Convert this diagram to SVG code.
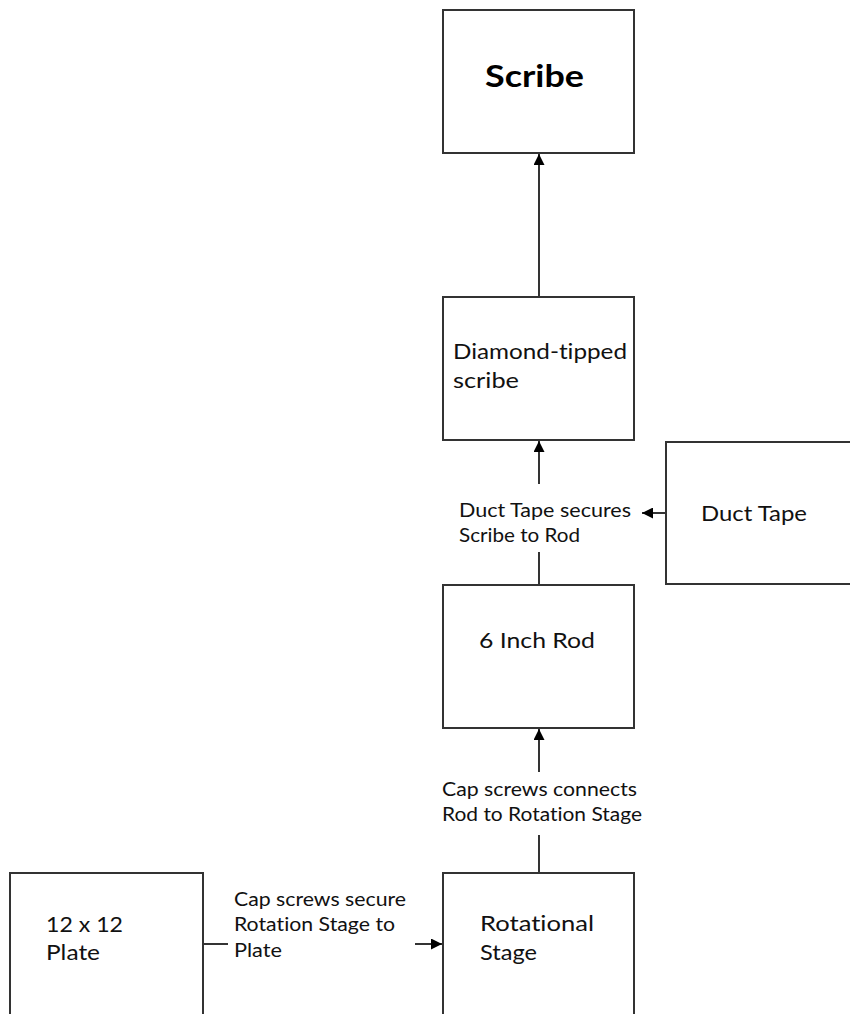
<svg xmlns="http://www.w3.org/2000/svg" width="850" height="1014" viewBox="0 0 850 1014">
<defs>
<style>
.box{fill:#fff;stroke:#333;stroke-width:2}
text{font-variant-ligatures:none}
.t{font-family:Lato,"Liberation Sans",sans-serif;font-size:22px;fill:#111}
.l{font-family:Lato,"Liberation Sans",sans-serif;font-size:18.5px;fill:#111}
.c{stroke:#000;stroke-width:1.6;fill:none}
</style>
<marker id="ah" viewBox="0 0 10 10" refX="10" refY="5" markerWidth="11" markerHeight="11" markerUnits="userSpaceOnUse" orient="auto">
<path d="M0,0 L10,5 L0,10 z" fill="#000"/>
</marker>
</defs>
<rect width="850" height="1014" fill="#fff"/>
<g id="connectors">
<line class="c" x1="539" y1="297" x2="539" y2="154" marker-end="url(#ah)"/>
<line class="c" x1="539" y1="484" x2="539" y2="441" marker-end="url(#ah)"/>
<line class="c" x1="539" y1="552" x2="539" y2="585"/>
<line class="c" x1="666" y1="513" x2="642" y2="513" marker-end="url(#ah)"/>
<line class="c" x1="539" y1="772" x2="539" y2="729" marker-end="url(#ah)"/>
<line class="c" x1="539" y1="835" x2="539" y2="873"/>
<line class="c" x1="203" y1="944" x2="228" y2="944"/>
<line class="c" x1="415" y1="944" x2="442" y2="944" marker-end="url(#ah)"/>
<text class="l" x="459" y="517" textLength="172" lengthAdjust="spacingAndGlyphs">Duct Tape secures</text>
<text class="l" x="459" y="542" textLength="121" lengthAdjust="spacingAndGlyphs">Scribe to Rod</text>
<text class="l" x="442" y="796" textLength="195" lengthAdjust="spacingAndGlyphs">Cap screws connects</text>
<text class="l" x="442" y="821" textLength="200" lengthAdjust="spacingAndGlyphs">Rod to Rotation Stage</text>
<text class="l" x="234" y="906" textLength="172" lengthAdjust="spacingAndGlyphs">Cap screws secure</text>
<text class="l" x="234" y="931" textLength="161" lengthAdjust="spacingAndGlyphs">Rotation Stage to</text>
<text class="l" x="234" y="957" textLength="48" lengthAdjust="spacingAndGlyphs">Plate</text>
</g>
<g id="scribe">
<rect class="box" x="443" y="10" width="191" height="143"/>
<text x="485" y="87" textLength="99" lengthAdjust="spacingAndGlyphs" style="font-family:Lato,'Liberation Sans',sans-serif;font-size:30px;font-weight:bold;fill:#000">Scribe</text>
</g>
<g id="diamond">
<rect class="box" x="443" y="297" width="191" height="143"/>
<text class="t" x="453" y="359" textLength="174" lengthAdjust="spacingAndGlyphs">Diamond-tipped</text>
<text class="t" x="453" y="388" textLength="66" lengthAdjust="spacingAndGlyphs">scribe</text>
</g>
<g id="ducttape">
<rect class="box" x="666" y="442" width="200" height="142"/>
<text class="t" x="701" y="521" textLength="106" lengthAdjust="spacingAndGlyphs">Duct Tape</text>
</g>
<g id="rod">
<rect class="box" x="443" y="585" width="191" height="143"/>
<text class="t" x="479" y="648" textLength="116" lengthAdjust="spacingAndGlyphs">6 Inch Rod</text>
</g>
<g id="rotstage">
<rect class="box" x="443" y="873" width="191" height="160"/>
<text class="t" x="480" y="931" textLength="114" lengthAdjust="spacingAndGlyphs">Rotational</text>
<text class="t" x="480" y="960" textLength="57" lengthAdjust="spacingAndGlyphs">Stage</text>
</g>
<g id="plate">
<rect class="box" x="10" y="873" width="193" height="160"/>
<text class="t" x="46" y="932" textLength="77" lengthAdjust="spacingAndGlyphs">12 x 12</text>
<text class="t" x="46" y="960" textLength="54" lengthAdjust="spacingAndGlyphs">Plate</text>
</g>
</svg>
